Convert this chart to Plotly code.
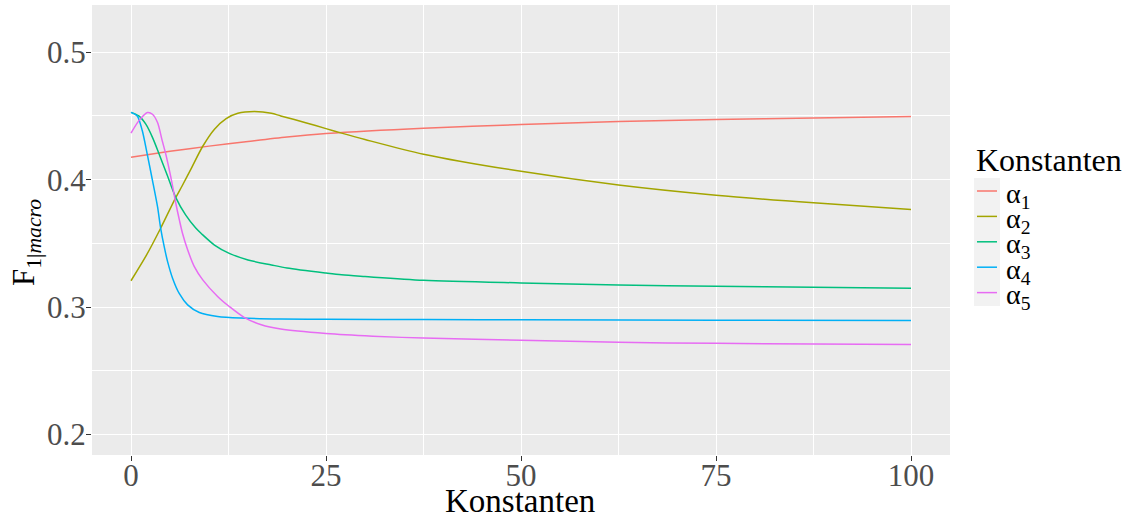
import plotly.graph_objects as go

# ---- data ----
x_a1 = [0, 5, 10, 15, 20, 25, 37.5, 50, 62.5, 75, 87.5, 100]
y_a1 = [0.4176, 0.4222, 0.4263, 0.4300, 0.4335, 0.4362, 0.4404, 0.4432, 0.4456, 0.4471, 0.4484, 0.4495]

x_a2 = [0, 2, 3.8, 5.7, 6.6, 7.7, 9.2, 10.7, 12.2, 13.7, 15.8, 18, 19.2, 22.5, 25, 27, 30, 37.5, 50, 62.5, 75, 87.5, 100]
y_a2 = [0.3207, 0.341, 0.3619, 0.3855, 0.3956, 0.4085, 0.4262, 0.4396, 0.4479, 0.4521, 0.4534, 0.4521,
        0.4500, 0.4445, 0.4400, 0.4365, 0.4315, 0.4200, 0.4065, 0.3958, 0.3878, 0.3818, 0.3766]

x_a3 = [0, 1, 1.9, 2.75, 3.6, 4.65, 5.7, 7, 8.3, 9, 10.7, 12.6, 15, 18, 20, 25, 27, 30, 37.5, 50, 62.5, 75, 87.5, 100]
y_a3 = [0.4528, 0.4500, 0.4435, 0.4332, 0.4202, 0.4034, 0.3865, 0.3723, 0.3620, 0.3578, 0.3487, 0.3422,
        0.3370, 0.3331, 0.3307, 0.3267, 0.3253, 0.3240, 0.3211, 0.3190, 0.3174, 0.3164, 0.3156, 0.3148]

x_a4 = [0, 0.8, 1.45, 2.1, 2.75, 3.4, 3.8, 4.27, 4.7, 5.34, 6.2, 7.26, 8.76, 11.1, 14.1, 19.2, 25, 37.5, 50, 75, 100]
y_a4 = [0.4528, 0.4500, 0.4383, 0.4194, 0.3995, 0.3788, 0.3620, 0.3470, 0.3355, 0.3225, 0.3105, 0.3018,
        0.2958, 0.2927, 0.2914, 0.2906, 0.2904, 0.2902, 0.2900, 0.2897, 0.2896]

x_a5 = [0, 1, 2.1, 2.75, 3.4, 4, 4.45, 5.1, 5.75, 6.2, 6.6, 7.26, 8.1, 9.2, 11.1, 12.6, 14.5, 16.7, 19.2,
        25, 31, 37.5, 50, 62.5, 75, 87.5, 100]
y_a5 = [0.4365, 0.4461, 0.4526, 0.4513, 0.4448, 0.4306, 0.4202, 0.4021, 0.3813, 0.3684, 0.3580, 0.3450,
        0.3320, 0.3214, 0.3084, 0.3005, 0.2920, 0.2862, 0.2828, 0.2793, 0.2772, 0.2757, 0.2740, 0.2724,
        0.2716, 0.2711, 0.2706]

series_names = ["α<sub>1</sub>", "α<sub>2</sub>", "α<sub>3</sub>", "α<sub>4</sub>", "α<sub>5</sub>"]
series_colors = ["#F8766D", "#A3A500", "#00BF7D", "#00B0F6", "#E76BF3"]
xs = [x_a1, x_a2, x_a3, x_a4, x_a5]
ys = [y_a1, y_a2, y_a3, y_a4, y_a5]

x_ticks = [0, 25, 50, 75, 100]
x_minor = [12.5, 37.5, 62.5, 87.5]
y_ticks = [0.2, 0.3, 0.4, 0.5]
y_tick_labels = ["0.2", "0.3", "0.4", "0.5"]
y_minor = [0.25, 0.35, 0.45]

legend_title = "Konstanten"
x_title = "Konstanten"
y_title = "F<sub>1|<i>macro</i></sub>"

FONT = "Liberation Serif"
W, H = 1140, 521
L, R, T, B = 92, 190, 5, 66
PW, PH = W - L - R, H - T - B


def xp(px):
    return (px - L) / PW


def yp(py):
    return (H - B - py) / PH


fig = go.Figure()
for x, y, n, c in zip(xs, ys, series_names, series_colors):
    fig.add_trace(go.Scatter(x=x, y=y, name=n, mode="lines", showlegend=False,
                             line=dict(color=c, width=1.5, shape="spline", smoothing=0.8)))

# ggplot-style legend: grey key background, short key lines, labels
shapes = [dict(type="rect", xref="paper", yref="paper",
               x0=xp(974), x1=xp(1000), y0=yp(306), y1=yp(178),
               fillcolor="#F2F2F2", line=dict(width=0), layer="below")]
annotations = [dict(text=legend_title, xref="paper", yref="paper", x=xp(974), y=yp(160),
                    xanchor="left", yanchor="middle", showarrow=False,
                    font=dict(size=32, family=FONT, color="black"))]
for i, (n, c) in enumerate(zip(series_names, series_colors)):
    row = 191 + 25.4 * i
    shapes.append(dict(type="line", xref="paper", yref="paper",
                       x0=xp(977), x1=xp(997), y0=yp(row), y1=yp(row),
                       line=dict(color=c, width=1.5)))
    annotations.append(dict(text=n, xref="paper", yref="paper", x=xp(1004), y=yp(row),
                            xanchor="left", yanchor="middle", showarrow=False, yshift=-4,
                            font=dict(size=28, family=FONT, color="black")))

annotations.append(dict(text=x_title, xref="paper", yref="paper", x=xp(520), y=yp(501),
                        xanchor="center", yanchor="middle", showarrow=False,
                        font=dict(size=33, family=FONT, color="black")))
annotations.append(dict(text=y_title, xref="paper", yref="paper", x=xp(26), y=yp(243),
                        xanchor="center", yanchor="middle", showarrow=False, textangle=-90,
                        font=dict(size=31, family=FONT, color="black")))

fig.update_layout(
    width=W, height=H,
    margin=dict(l=L, r=R, t=T, b=B),
    paper_bgcolor="white",
    plot_bgcolor="#EBEBEB",
    font=dict(family=FONT, color="black"),
    showlegend=False,
    shapes=shapes,
    annotations=annotations,
    xaxis=dict(
        range=[-5, 105], automargin=False,
        tickvals=x_ticks,
        ticks="outside", ticklen=5, tickcolor="#333333", tickwidth=1,
        ticklabelstandoff=-12,
        tickfont=dict(size=31, color="#4D4D4D", family=FONT),
        showgrid=True, gridcolor="white", gridwidth=1.4,
        minor=dict(tickvals=x_minor, showgrid=True, gridcolor="white", gridwidth=0.7, ticks=""),
        zeroline=False, showline=False,
    ),
    yaxis=dict(
        range=[0.184, 0.537], automargin=False,
        tickvals=y_ticks, ticktext=y_tick_labels,
        ticks="outside", ticklen=5, tickcolor="#333333", tickwidth=1,
        ticklabelstandoff=-6,
        tickfont=dict(size=31, color="#4D4D4D", family=FONT),
        showgrid=True, gridcolor="white", gridwidth=1.4,
        minor=dict(tickvals=y_minor, showgrid=True, gridcolor="white", gridwidth=0.7, ticks=""),
        zeroline=False, showline=False,
    ),
)

fig.write_html("out.html", config={"displayModeBar": False},
               post_script="document.body.style.margin='0';document.body.style.padding='0';")
